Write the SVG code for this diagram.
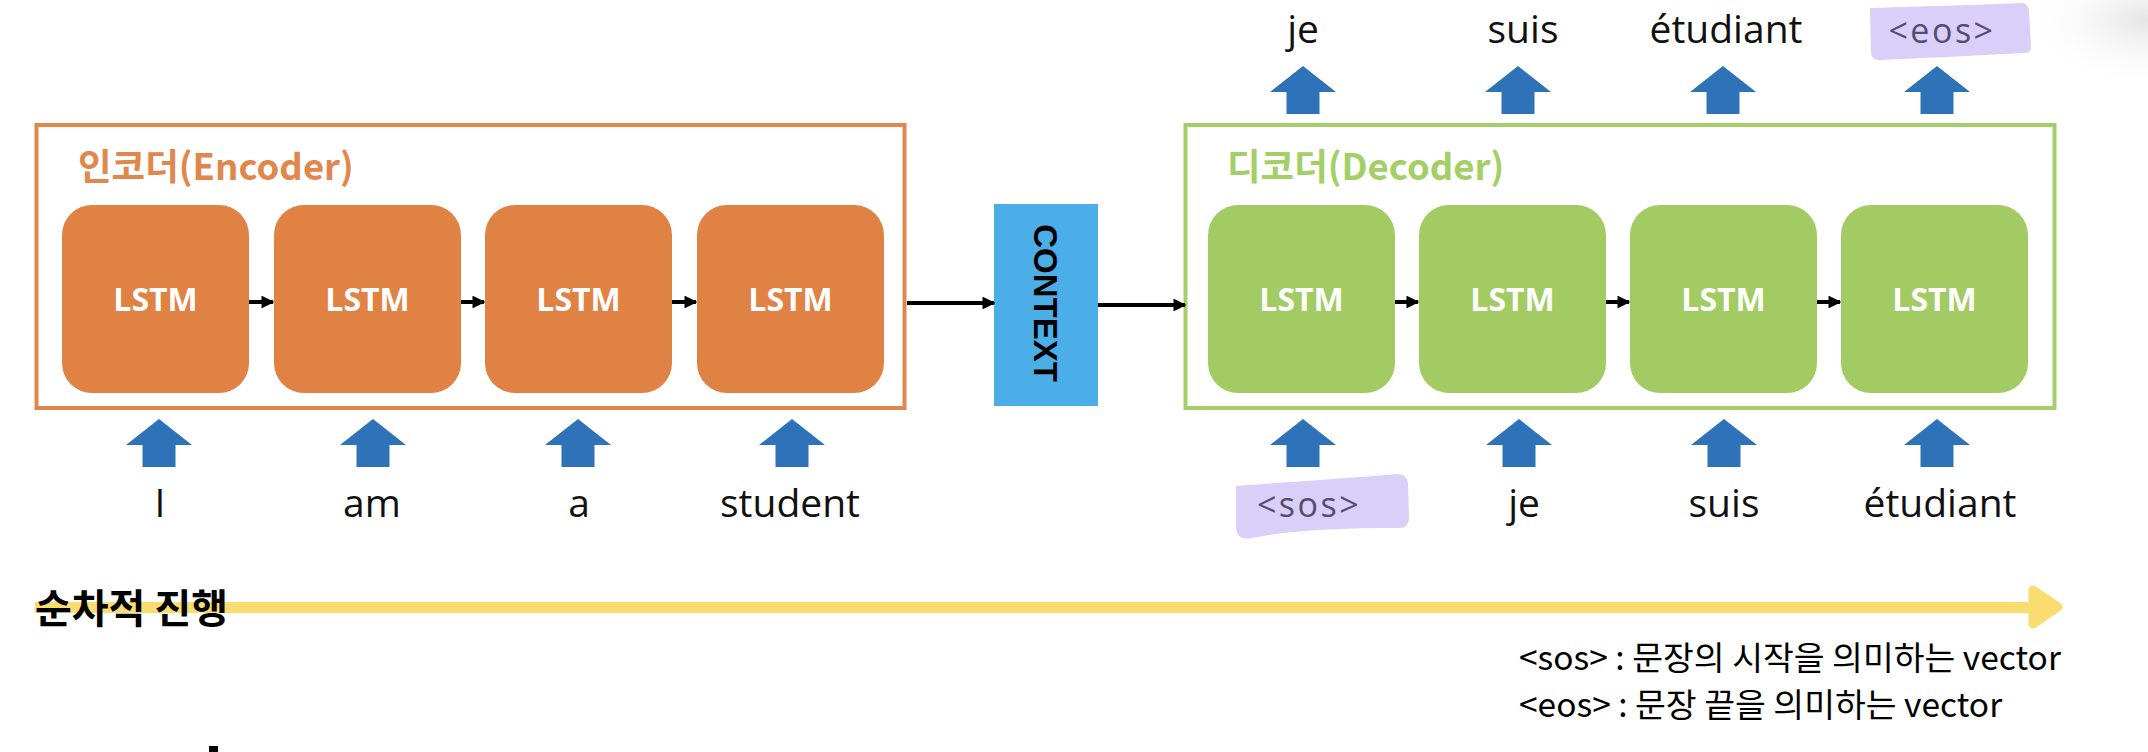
<svg xmlns="http://www.w3.org/2000/svg" width="2148" height="752" viewBox="0 0 2148 752">
  <defs>
    <style>
      .lstmE { fill: #E08244; }
      .lstmD { fill: #A2CC63; }
      .lstmT { font-family: "Open Sans", "Liberation Sans", sans-serif; font-weight: 700; font-size: 32px; fill: #ffffff; text-anchor: middle; }
      .word { font-family: "Open Sans", "Liberation Sans", sans-serif; font-size: 39px; fill: #111111; text-anchor: middle; }
      .tag { font-family: "Open Sans", "Liberation Sans", sans-serif; font-size: 34px; fill: #564b70; text-anchor: middle; letter-spacing: 2.5px; }
      .hl { fill: #D9CFF8; }
      .link { stroke: #000000; stroke-width: 4; fill: none; }
      .blue { fill: #2E72B8; }
      .legend { font-family: "Noto Sans CJK KR", "Noto Sans", sans-serif; font-size: 33.5px; fill: #000000; }
      .title { font-family: "Noto Sans CJK KR", "Noto Sans", sans-serif; font-size: 36.5px; font-weight: 700; }
    </style>
    <marker id="ah" viewBox="0 0 10 10" refX="9" refY="5" markerWidth="3.2" markerHeight="3.2" orient="auto" markerUnits="strokeWidth">
      <path d="M0,0 L10,5 L0,10 Z" fill="#000000"/>
    </marker>
    <path id="barrow" d="M0,0 L33,26 L16.5,26 L16.5,48 L-16.5,48 L-16.5,26 L-33,26 Z"/>
    <radialGradient id="shade" cx="0.5" cy="0.5" r="0.5">
      <stop offset="0" stop-color="#e4e4e4"/>
      <stop offset="1" stop-color="#ffffff" stop-opacity="0"/>
    </radialGradient>
  </defs>

  <rect width="2148" height="752" fill="#ffffff"/>
  <ellipse cx="2148" cy="20" rx="130" ry="70" fill="url(#shade)"/>

  <!-- Encoder -->
  <g id="encoder">
    <rect x="36.5" y="125" width="868" height="283" fill="none" stroke="#E2874C" stroke-width="4"/>
    <text class="title" x="78" y="180" fill="#E2874C">인코더(Encoder)</text>
  </g>
  <g id="enc1"><rect class="lstmE" x="62" y="205" width="187" height="188" rx="30"/><text class="lstmT" x="155.5" y="311">LSTM</text></g>
  <g id="enc2"><rect class="lstmE" x="274" y="205" width="187" height="188" rx="30"/><text class="lstmT" x="367.5" y="311">LSTM</text></g>
  <g id="enc3"><rect class="lstmE" x="485" y="205" width="187" height="188" rx="30"/><text class="lstmT" x="578.5" y="311">LSTM</text></g>
  <g id="enc4"><rect class="lstmE" x="697" y="205" width="187" height="188" rx="30"/><text class="lstmT" x="790.5" y="311">LSTM</text></g>

  <!-- Context -->
  <g id="context">
    <rect x="994" y="204" width="104" height="202" fill="#4BAEE8"/>
    <text x="0" y="0" transform="translate(1034,303) rotate(90)" font-family="Liberation Sans, Arial, sans-serif" font-weight="700" font-size="33" fill="#000000" text-anchor="middle">CONTEXT</text>
  </g>

  <!-- Decoder -->
  <g id="decoder">
    <rect x="1185.5" y="125" width="869" height="283" fill="none" stroke="#A4CE66" stroke-width="4"/>
    <text class="title" x="1227" y="180" fill="#A4CE66">디코더(Decoder)</text>
  </g>
  <g id="dec1"><rect class="lstmD" x="1208" y="205" width="187" height="188" rx="30"/><text class="lstmT" x="1301.5" y="311">LSTM</text></g>
  <g id="dec2"><rect class="lstmD" x="1419" y="205" width="187" height="188" rx="30"/><text class="lstmT" x="1512.5" y="311">LSTM</text></g>
  <g id="dec3"><rect class="lstmD" x="1630" y="205" width="187" height="188" rx="30"/><text class="lstmT" x="1723.5" y="311">LSTM</text></g>
  <g id="dec4"><rect class="lstmD" x="1841" y="205" width="187" height="188" rx="30"/><text class="lstmT" x="1934.5" y="311">LSTM</text></g>

  <!-- Connectors -->
  <g id="connectors">
    <line class="link" x1="249" y1="302" x2="273" y2="302" marker-end="url(#ah)"/>
    <line class="link" x1="461" y1="302" x2="484" y2="302" marker-end="url(#ah)"/>
    <line class="link" x1="672" y1="302" x2="696" y2="302" marker-end="url(#ah)"/>
    <line class="link" x1="907" y1="303" x2="994" y2="303" marker-end="url(#ah)"/>
    <line class="link" x1="1098" y1="305" x2="1185" y2="305" marker-end="url(#ah)"/>
    <line class="link" x1="1395" y1="302" x2="1418" y2="302" marker-end="url(#ah)"/>
    <line class="link" x1="1606" y1="302" x2="1629" y2="302" marker-end="url(#ah)"/>
    <line class="link" x1="1817" y1="302" x2="1840" y2="302" marker-end="url(#ah)"/>

    <!-- input arrows -->
    <use href="#barrow" class="blue" x="159" y="419"/>
    <use href="#barrow" class="blue" x="373" y="419"/>
    <use href="#barrow" class="blue" x="578" y="419"/>
    <use href="#barrow" class="blue" x="792" y="419"/>
    <use href="#barrow" class="blue" x="1303" y="419"/>
    <use href="#barrow" class="blue" x="1519" y="419"/>
    <use href="#barrow" class="blue" x="1724" y="419"/>
    <use href="#barrow" class="blue" x="1937" y="419"/>
    <!-- output arrows -->
    <use href="#barrow" class="blue" x="1303" y="66"/>
    <use href="#barrow" class="blue" x="1518" y="66"/>
    <use href="#barrow" class="blue" x="1723" y="66"/>
    <use href="#barrow" class="blue" x="1937" y="66"/>
  </g>

  <!-- highlights -->
  <path class="hl" d="M1236,486 C1290,482 1350,478 1398,474 Q1407,474 1408,484 L1409,518 Q1409,528 1398,528 C1340,528 1290,530 1252,538 Q1237,541 1236,528 Z"/>
  <path class="hl" d="M1870,8 C1930,6 1985,5 2021,3 Q2028,3 2029,11 L2031,47 Q2031,53 2024,53 C1970,56 1920,58 1880,60 Q1871,60 1871,52 Z"/>

  <!-- input words -->
  <g id="inputs">
    <text class="word" x="160" y="517">I</text>
    <text class="word" x="372" y="517">am</text>
    <text class="word" x="579" y="517">a</text>
    <text class="word" x="790" y="517">student</text>
    <text class="tag" x="1309" y="517">&lt;sos&gt;</text>
    <text class="word" x="1524" y="517">je</text>
    <text class="word" x="1724" y="517">suis</text>
    <text class="word" x="1940" y="517">étudiant</text>
  </g>
  <!-- output words -->
  <g id="outputs">
    <text class="word" x="1303" y="43">je</text>
    <text class="word" x="1523" y="43">suis</text>
    <text class="word" x="1726" y="43">étudiant</text>
    <text class="tag" x="1942" y="43">&lt;eos&gt;</text>
  </g>

  <!-- sequential progress arrow -->
  <g id="progress">
    <rect x="35" y="602" width="1996" height="11" fill="#FADC70"/>
    <polygon points="2033,590 2058,607 2033,624" fill="#FADC70" stroke="#FADC70" stroke-width="9" stroke-linejoin="round"/>
    <text x="35" y="623" font-family="Noto Sans CJK KR, Noto Sans, sans-serif" font-size="40" font-weight="700" fill="#000000">순차적 진행</text>
  </g>

  <!-- legend -->
  <g id="legend">
    <text class="legend" x="1519" y="670">&lt;sos&gt; : 문장의 시작을 의미하는 vector</text>
    <text class="legend" x="1519" y="717">&lt;eos&gt; : 문장 끝을 의미하는 vector</text>
  </g>

  <rect x="209" y="746" width="9" height="6" fill="#000000"/>
</svg>
